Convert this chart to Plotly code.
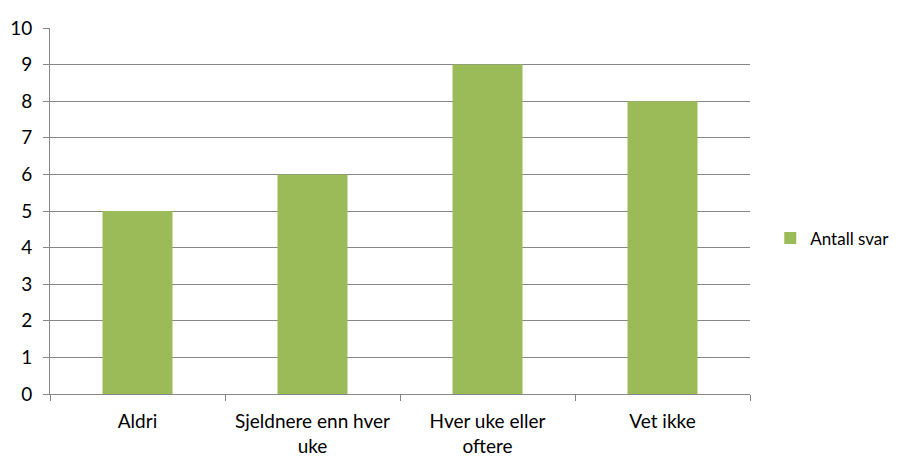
import plotly.graph_objects as go

categories = ["Aldri", "Sjeldnere enn hver<br>uke", "Hver uke eller<br>oftere", "Vet ikke"]
values = [5, 6, 9, 8]
series_name = "Antall svar"
y_ticks = list(range(0, 11))

FONT = "Lato"
GRID = "#868686"

fig = go.Figure()
fig.add_trace(go.Bar(
    x=categories, y=values, name=series_name,
    marker=dict(color="#9BBB59", line=dict(width=0)),
    width=0.4, showlegend=True,
))

fig.update_layout(
    width=903, height=463,
    margin=dict(l=50, r=153, t=28, b=69, autoexpand=False),
    paper_bgcolor="white", plot_bgcolor="white",
    font=dict(family=FONT, size=19, color="#000000"),
    showlegend=True,
    legend=dict(x=0.853, y=0.485, xref="container", yref="container",
                xanchor="left", yanchor="middle",
                font=dict(family=FONT, size=17, color="#000000"),
                bgcolor="rgba(0,0,0,0)"),
    bargap=0.6,
)
fig.update_xaxes(
    type="category", showline=True, linecolor=GRID, linewidth=1,
    ticks="outside", tickson="boundaries", ticklen=6, tickcolor=GRID,
    showgrid=False, tickfont=dict(family=FONT, size=19, color="#000000"),
    ticklabelstandoff=10,
)
fig.update_yaxes(
    range=[0, 10], tickvals=y_ticks, showline=True, linecolor=GRID, linewidth=1,
    ticks="outside", ticklen=6, tickcolor=GRID,
    showgrid=True, gridcolor=GRID, gridwidth=1, zeroline=False,
    tickfont=dict(family=FONT, size=19, color="#000000"),
    ticklabelstandoff=7,
)

fig.write_html("out.html")
